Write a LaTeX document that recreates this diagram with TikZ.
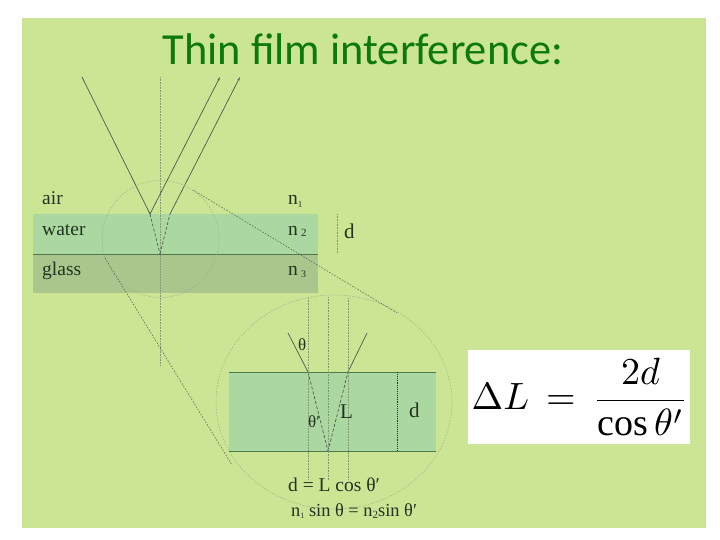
\documentclass[tikz,border=0pt]{standalone}
\usepackage{amsmath}
\usepackage{fontspec}
\setmainfont{Liberation Serif}
\newfontfamily\titlefont{Carlito}
\usetikzlibrary{arrows.meta}
\definecolor{slidegreen}{HTML}{CBE594}
\definecolor{watergreen}{HTML}{ABD8A0}
\definecolor{glassgreen}{HTML}{ABC68D}
\definecolor{titlegreen}{HTML}{0B7A0B}
\definecolor{raygray}{HTML}{4A5A50}
\definecolor{dotgray}{HTML}{7F9A70}
\definecolor{labelgray}{HTML}{223322}
\tikzset{
  filmlabel/.style={anchor=base west, inner sep=0, text=labelgray, font=\fontsize{19.5}{19.5}\selectfont},
  biglabel/.style={filmlabel, font=\fontsize{21}{21}\selectfont},
  smalllabel/.style={filmlabel, font=\fontsize{17}{17}\selectfont},
  ray/.style={raygray, line width=0.7pt},
  raytip/.style={ray, -{Stealth[length=4pt,width=2pt]}},
  normalline/.style={dotgray, line width=0.6pt, densely dotted},
  guide/.style={dotgray!80, line width=0.5pt, dash pattern=on 1.5pt off 1.5pt},
  boundary/.style={black!55!green!40!gray, line width=0.8pt}
}
\begin{document}
\begin{tikzpicture}[x=1pt,y=-1pt]
            \useasboundingbox (0,0) rectangle (720,540);
            \fill[white] (0,0) rectangle (720,540);
            \fill[slidegreen] (22,18) rectangle (706,528);

            \node[anchor=base, inner sep=0, text=titlegreen, font=\titlefont\fontsize{44.4}{44.4}\selectfont] (title) at (363,65) {Thin film interference:};

            % Upper layers
            \fill[watergreen] (33,214) rectangle (318,254);
            \fill[glassgreen] (33,254) rectangle (318,293);
            \coordinate (wl) at (33,254);
            \coordinate (wr) at (318,254);
            \draw[boundary] (wl) -- (wr);

            % Upper rays
            \coordinate (in) at (82,77);
            \coordinate (a) at (150,214);
            \coordinate (b) at (160,254);
            \coordinate (c) at (170,214);
            \coordinate (outa) at (220,77);
            \coordinate (outb) at (240,77);
            \coordinate (ntop) at (160,77);
            \coordinate (nbot) at (160,366);
            \draw[normalline] (ntop) -- (nbot);
            \draw[ray] (in) -- (a);
            \draw[raytip] (a) -- (outa);
            \draw[raytip] (c) -- (outb);
            \draw[ray, densely dashed] (a) -- (b);
            \draw[ray, densely dashed] (b) -- (c);

            \coordinate (dtop) at (337,214);
            \coordinate (dbot) at (337,254);
            \draw[normalline] (dtop) -- (dbot);

            % Zoom circles
            \draw[guide] (160.5,239) circle(58.5);
            \draw[guide] (334,402) ellipse (118 and 107);
            \coordinate (za) at (193,190);
            \coordinate (zb) at (397,313);
            \coordinate (zc) at (105,258);
            \coordinate (zd) at (232,465);
            \draw[guide, raygray] (za) -- (zb);
            \draw[guide, raygray] (zc) -- (zd);

            % Lower layer
            \fill[watergreen] (229,372) rectangle (436,451);
            \coordinate (ll) at (229,451);
            \coordinate (lr) at (436,451);
            \coordinate (ul) at (229,372);
            \coordinate (ur) at (436,372);
            \draw[boundary] (ll) -- (lr);
            \draw[boundary, line width=0.4pt] (ul) -- (ur);

            % Lower rays
            \coordinate (p) at (288,333);
            \coordinate (q) at (308,372);
            \coordinate (r) at (328,451);
            \coordinate (s) at (348,372);
            \coordinate (t) at (367,333);
            \draw[ray] (p) -- (q);
            \draw[ray, densely dashed] (q) -- (r);
            \draw[ray, densely dashed] (r) -- (s);
            \draw[ray] (s) -- (t);
            \draw[normalline] (308,298) -- (308,480);
            \draw[normalline, line width=0.9pt] (328,297) -- (328,480);
            \draw[normalline] (348,298) -- (348,480);
            \coordinate (da) at (397,372);
            \coordinate (db) at (397,451);
            \draw[black!70!green, line width=0.9pt, densely dotted] (da) -- (db);

            % Labels
            \node[filmlabel] (air) at (42,205) {air};
            \node[filmlabel] (water) at (42,236) {water};
            \node[filmlabel] (glass) at (42,275) {glass};
            \node[filmlabel] (n1) at (288,205) {n\raisebox{-2pt}{\fontsize{9}{9}\selectfont 1}};
            \node[filmlabel] (n2) at (288,236) {n\,\raisebox{-1pt}{\fontsize{11}{11}\selectfont 2}};
            \node[filmlabel] (n3) at (288,275) {n\,\raisebox{-2pt}{\fontsize{10}{10}\selectfont 3}};
            \node[biglabel] (d1) at (344,238) {d};
            \node[smalllabel] (theta) at (298,350) {θ};
            \node[smalllabel] (thetap) at (308,427) {θ′};
            \node[biglabel] (L) at (340,418) {L};
            \node[biglabel] (d2) at (409,417) {d};
            \node[filmlabel] (cosline) at (288,491) {d = L cos θ′};
            \node[filmlabel, font=\fontsize{18.4}{18.4}\selectfont] (sinline) at (291,516) {n\raisebox{-2pt}{\fontsize{8}{8}\selectfont 1} sin θ = n\raisebox{-2pt}{\fontsize{11}{11}\selectfont 2}sin θ′};

            % Formula
            \fill[white] (468,350) rectangle (690,444);
            \node[inner sep=0, scale=3.8] (formula) at (580,397) {$\Delta L\,=\,\dfrac{2d}{\cos\theta'}$};
        \end{tikzpicture}
\end{document}
